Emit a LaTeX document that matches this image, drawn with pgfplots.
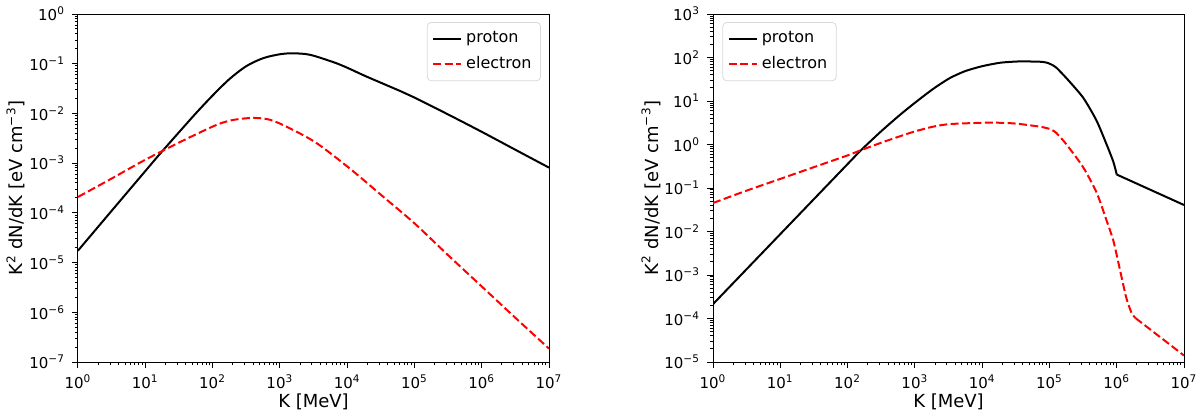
\documentclass[border=0pt]{standalone}
\usepackage{fontspec}
\setmainfont{DejaVu Sans}
\usepackage{pgfplots}
\pgfplotsset{compat=1.18}
\newcommand{\tp}[1]{10\textsuperscript{#1}}
\pgfplotsset{
  legend image code/.code={\draw[#1] (0pt,0pt) -- (14pt,0pt);},
  every axis/.append style={
    scale only axis, width=235.5pt, height=174pt,
    tick align=outside, xtick pos=bottom, ytick pos=left,
    major tick length=3pt, minor tick length=1.7pt,
    every tick/.append style={black, line width=0.5pt},
    tick label style={font=\fontsize{7.5}{9}\selectfont},
    label style={font=\fontsize{9}{11}\selectfont},
    xlabel style={at={(axis description cs:0.5,0)}, anchor=base, yshift=-22.5pt},
    ylabel style={at={(axis description cs:0,0.5)}, anchor=base, yshift=27.5pt},
    legend style={font=\fontsize{8}{10}\selectfont, draw=black!15, rounded corners=2pt, row sep=1.5pt, inner sep=2.5pt},
    legend cell align=left,
    axis line style={line width=0.5pt},
  },
}
\tikzset{
  prot/.style={black, line width=1pt},
  elec/.style={red, line width=1pt, dash pattern=on 4pt off 1.7pt},
}
\begin{document}
\begin{tikzpicture}
\path[use as bounding box] (0,0) rectangle (600pt,207pt);
% Left panel
\begin{axis}[xmode=log, ymode=log, at={(39pt,26pt)}, anchor=south west,
  xmin=1, xmax=1e7, ymin=1e-7, ymax=1,
  xtick={1,10,100,1000,10000,100000,1000000,10000000},
  xticklabels={\tp{0},\tp{1},\tp{2},\tp{3},\tp{4},\tp{5},\tp{6},\tp{7}},
  ytick={1e-7,1e-6,1e-5,1e-4,1e-3,1e-2,1e-1,1},
  yticklabels={\tp{−7},\tp{−6},\tp{−5},\tp{−4},\tp{−3},\tp{−2},\tp{−1},\tp{0}},
  xlabel={K [MeV]},
  ylabel={K\textsuperscript{2} dN/dK [eV cm\textsuperscript{−3}]},
  legend style={at={(0.983,0.977)}, anchor=north east},
]
\addplot[prot, smooth, tension=0.5] coordinates {
(1,1.74e-5) (3.162,1.10e-4) (10,6.92e-4) (16.60,1.55e-3) (31.62,4.17e-3)
(56.23,1.0e-2) (100,2.29e-2) (177.8,4.90e-2) (316.2,8.91e-2) (562.3,0.129)
(1000,0.155) (1585,0.162) (2818,0.151) (6310,0.107) (10000,0.0832) (19500,0.0550)
(61660,0.0282) (100000,0.0209) (316200,9.55e-3) (1000000,4.27e-3) (3162000,1.86e-3) (10000000,8.13e-4)};
\addlegendentry{proton}
\addplot[elec, smooth, tension=0.5] coordinates {
(1,2.09e-4) (3.162,4.90e-4) (10,1.17e-3) (37.15,2.88e-3) (114.8,5.89e-3)
(204.2,7.41e-3) (407.4,8.13e-3) (724.4,7.41e-3) (1413,5.01e-3) (3548,2.51e-3)
(11220,7.59e-4) (34670,2.09e-4) (100000,6.17e-5) (316200,1.41e-5) (1000000,3.31e-6)
(3162000,7.76e-7) (10000000,1.86e-7)};
\addlegendentry{electron}
\end{axis}
% Right panel
\begin{axis}[xmode=log, ymode=log, at={(356.5pt,26pt)}, anchor=south west,
  xmin=1, xmax=1e7, ymin=1e-5, ymax=1e3,
  xtick={1,10,100,1000,10000,100000,1000000,10000000},
  xticklabels={\tp{0},\tp{1},\tp{2},\tp{3},\tp{4},\tp{5},\tp{6},\tp{7}},
  ytick={1e-5,1e-4,1e-3,1e-2,1e-1,1,10,100,1000},
  yticklabels={\tp{−5},\tp{−4},\tp{−3},\tp{−2},\tp{−1},\tp{0},\tp{1},\tp{2},\tp{3}},
  xlabel={K [MeV]},
  ylabel={K\textsuperscript{2} dN/dK [eV cm\textsuperscript{−3}]},
  legend style={at={(0.02,0.977)}, anchor=north west},
]
\addplot[prot, smooth, tension=0.4] coordinates {
(1,2.14e-4) (10,8.71e-3) (100,0.355) (158.5,0.741) (316.2,2.02) (602.6,4.82)
(1000,9.08) (1862,18.9) (3311,33.7) (5623,48.8) (10000,63.1) (18620,75.9)
(36310,81.3) (79430,79.4) (100000,72.4) (112200,66.1)};
\addlegendentry{proton}
\addplot[elec, smooth, tension=0.4] coordinates {
(1,0.0452) (3.162,0.0871) (10,0.162) (31.62,0.302) (100,0.562) (158.5,0.741)
(316.2,1.10) (602.6,1.55) (1000,2.0) (1862,2.57) (3311,2.95) (10000,3.16)
(18620,3.16) (32360,3.02) (72440,2.57) (100000,2.29) (112200,2.09)};
\addlegendentry{electron}
\addplot[prot, smooth, tension=0.4, forget plot] coordinates {
(112200,66.1) (125900,58.9) (177800,33.9) (316200,12.0) (501200,3.55)
(707900,1.0) (891300,0.40) (1000000,0.204)};
\addplot[prot, forget plot] coordinates {(1000000,0.204) (10000000,0.0407)};
\addplot[elec, smooth, tension=0.4, forget plot] coordinates {
(112200,2.09) (125900,1.86) (177800,1.02) (316200,0.302) (501200,0.0794)
(707900,0.0178) (891300,6.17e-3) (1096000,1.51e-3) (1380000,3.09e-4)
(1660000,1.35e-4) (1905000,1.02e-4)};
\addplot[elec, forget plot] coordinates {(1905000,1.02e-4) (10000000,1.41e-5)};
\end{axis}
\end{tikzpicture}
\end{document}
